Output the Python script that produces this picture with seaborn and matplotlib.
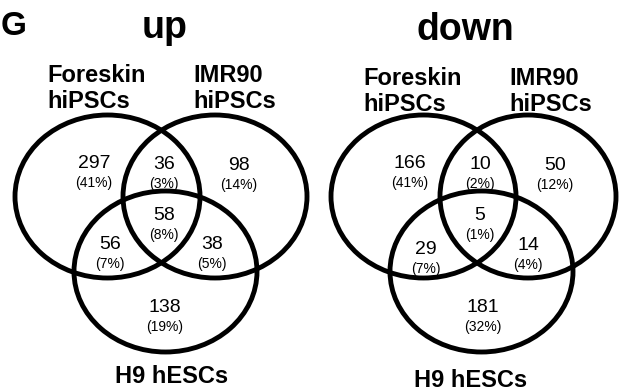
import matplotlib
matplotlib.use("Agg")
import matplotlib.pyplot as plt
from matplotlib.patches import Ellipse
import seaborn as sns

# ---- data -------------------------------------------------------------
panel_letter = "G"
panel_titles = ["up", "down"]
set_names = ["Foreskin\nhiPSCs", "IMR90\nhiPSCs", "H9 hESCs"]
region_keys = ["A", "AB", "B", "AC", "ABC", "BC", "C"]
up_counts = [297, 36, 98, 56, 58, 38, 138]
up_percents = [41, 3, 14, 7, 8, 5, 19]
down_counts = [166, 10, 50, 29, 5, 14, 181]
down_percents = [41, 2, 12, 7, 1, 4, 32]

# ---- layout (pixel-like canvas units, y downwards) --------------------
W, H = 620, 391
panel_x0 = [0, 316]
title_x = [165, 149]
title_y = [38, 40]
bottom_label_x = [172, 155]
bottom_label_y = [383, 387]
label_dy = [0, 3]

ellipses = {
    "A": dict(cx=107.5, cy=196.5, w=185, h=163),
    "B": [dict(cx=215, cy=196.5, w=184, h=163), dict(cx=212, cy=196.5, w=176, h=163)],
    "C": dict(cx=165.5, cy=271.5, w=183, h=161),
}
region_pos = {
    "A": (94, 161), "AB": (164, 162), "B": (239, 163),
    "AC": (110, 242), "ABC": (164, 213), "BC": (212, 242), "C": (165, 305),
}
region_shift = [{}, {"AC": (0, 5), "BC": (0, 1), "C": (2, 0)}]

sns.set_theme(style="white")
plt.rcParams["font.family"] = ["Liberation Sans", "DejaVu Sans"]
plt.rcParams["text.color"] = "black"

fig = plt.figure(figsize=(W / 100, H / 100), dpi=100)
ax = fig.add_axes([0, 0, 1, 1])
ax.set_xlim(0, W)
ax.set_ylim(H, 0)
ax.axis("off")

ax.text(1, 35, panel_letter, fontsize=24, fontweight="bold", ha="left",
        va="baseline", color="black")

panels = [(up_counts, up_percents), (down_counts, down_percents)]
for p, (counts, pcts) in enumerate(panels):
    x0 = panel_x0[p]

    # set circles
    for key in ["A", "B", "C"]:
        e = ellipses[key]
        if isinstance(e, list):
            e = e[p]
        ax.add_patch(Ellipse((x0 + e["cx"], e["cy"]), e["w"], e["h"],
                             fill=False, edgecolor="black", linewidth=3.5))

    # title
    ax.text(x0 + title_x[p], title_y[p], panel_titles[p], fontsize=27,
            fontweight="bold", ha="center", va="baseline", color="black")

    # set names above the top circles
    for name, lx in zip(set_names[:2], [47, 193]):
        for i, line in enumerate(name.split("\n")):
            ax.text(x0 + lx, 82 + label_dy[p] + i * 26, line, fontsize=17,
                    fontweight="bold", ha="left", va="baseline", color="black")
    ax.text(x0 + bottom_label_x[p], bottom_label_y[p], set_names[2],
            fontsize=17, fontweight="bold", ha="center", va="baseline",
            color="black")

    # region counts and percentages
    for key, n, pc in zip(region_keys, counts, pcts):
        rx, ry = region_pos[key]
        sx, sy = region_shift[p].get(key, (0, 0))
        rx, ry = x0 + rx + sx, ry + sy
        ax.text(rx, ry + 7, f"{n}", fontsize=14, ha="center", va="baseline",
                color="black")
        ax.text(rx, ry + 26, f"({pc}%)", fontsize=10, ha="center",
                va="baseline", color="black")

fig.savefig("out.png", dpi=100, facecolor="white")
